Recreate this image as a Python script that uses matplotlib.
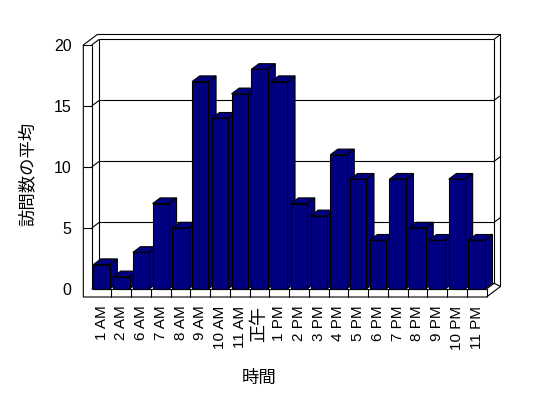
import matplotlib
matplotlib.use("Agg")
import matplotlib.pyplot as plt
from matplotlib.patches import Polygon

plt.rcParams['font.family'] = ['Liberation Sans', 'Noto Sans CJK JP', 'DejaVu Sans']

# ---- data ----
categories = ["1 AM", "2 AM", "6 AM", "7 AM", "8 AM", "9 AM", "10 AM", "11 AM", "正午",
              "1 PM", "2 PM", "3 PM", "4 PM", "5 PM", "6 PM", "7 PM", "8 PM", "9 PM",
              "10 PM", "11 PM"]
values = [2, 1, 3, 7, 5, 17, 14, 16, 18, 17, 7, 6, 11, 9, 4, 9, 5, 4, 9, 4]
yticks = [0, 5, 10, 15, 20]
ylabel = "訪問数の平均"
xlabel = "時間"

# ---- style ----
BAR = "#000080"
W, H = 548, 398
fig = plt.figure(figsize=(W / 100, H / 100), dpi=100)
ax = fig.add_axes([91.7 / W, (H - 289) / H, 394.8 / W, 244 / H])
n = len(categories)
x0, x1 = -0.5, n - 0.5
y0, y1 = 0, 20
ax.set_xlim(x0, x1)
ax.set_ylim(y0, y1)
for s in ax.spines.values():
    s.set_visible(False)

cw = 394.8 / n          # px per category
uh = 244 / 20           # px per unit
ddx, ddy = 7.6 / cw, 5.7 / uh       # inner depth
odx, ody = 14.0 / cw, 10.5 / uh     # outer depth
tx, ty = 8.4 / cw, 8.0 / uh         # wall / floor thickness
xo, yb = x0 - tx, y0 - ty
lw = 0.8

def line(xs, ys, z=1):
    ax.plot(xs, ys, color="black", lw=lw, clip_on=False, zorder=z, solid_capstyle="butt")

# outer frame
outer = Polygon([(xo, y1), (xo, yb), (x1, yb), (x1 + odx, yb + ody),
                 (x1 + odx, y1 + ody), (xo + odx, y1 + ody)], closed=True,
                facecolor="white", edgecolor="black", lw=lw, clip_on=False, zorder=0)
ax.add_patch(outer)

# left wall
line([x0, x0], [y0, y1])
line([xo, x0], [y1, y1])
line([x0, x0 + ddx], [y1, y1 + ddy])
line([x0, x0 + ddx], [y0, y0 + ddy])
# back wall
line([x0 + ddx, x1 + ddx], [y1 + ddy, y1 + ddy])
line([x0 + ddx, x0 + ddx], [y0 + ddy, y1 + ddy])
line([x1 + ddx, x1 + ddx], [y0 + ddy, y1 + ddy])
line([x0 + ddx, x1 + ddx], [y0 + ddy, y0 + ddy])
line([x1 + ddx, x1 + odx], [y1 + ddy, y1 + ody])
line([x1 + ddx, x1 + odx], [y0 + ddy, yb + ody])
# floor
line([x0, x1], [y0, y0])
line([x1, x1 + ddx], [y0, y0 + ddy])
line([x1, x1], [y0, yb])
for k in range(n - 1):
    line([k + 0.5, k + 0.5], [y0, yb])
# gridlines
for v in yticks[1:-1]:
    line([xo, x0], [v, v])
    line([x0, x0 + ddx], [v, v + ddy])
    line([x0 + ddx, x1 + ddx], [v + ddy, v + ddy])
    line([x1 + ddx, x1 + odx], [v + ddy, v + ody])

# bars
bw = 0.83
for i, v in enumerate(values):
    z = 3 + i * 0.01
    l, r = i - bw / 2, i + bw / 2
    side = Polygon([(r, 0), (r, v), (r + ddx, v + ddy), (r + ddx, ddy)], closed=True,
                   facecolor=BAR, edgecolor="black", lw=lw, zorder=z, clip_on=False)
    top = Polygon([(l, v), (r, v), (r + ddx, v + ddy), (l + ddx, v + ddy)], closed=True,
                  facecolor=BAR, edgecolor="black", lw=lw, zorder=z, clip_on=False)
    ax.add_patch(side)
    ax.add_patch(top)
ax.bar(range(n), values, width=bw, color=BAR, edgecolor="black", lw=lw, zorder=3.5, clip_on=False)

ax.set_yticks(yticks)
ax.set_xticks(range(n))
ax.set_xticklabels(categories, rotation=90)
ax.tick_params(axis="y", length=0, pad=14.5, labelsize=11.5)
ax.tick_params(axis="x", length=0, pad=12, labelsize=11)
for t in ax.get_xticklabels():
    if t.get_text() == "正午":
        t.set_fontsize(13)

ax.set_ylabel(ylabel, fontsize=12.5)
ax.yaxis.set_label_coords(-0.142, 0.471)
ax.set_xlabel(xlabel, fontsize=12.5)
ax.xaxis.set_label_coords(0.423, -0.33)

fig.savefig("out.png", dpi=100, facecolor="white")
